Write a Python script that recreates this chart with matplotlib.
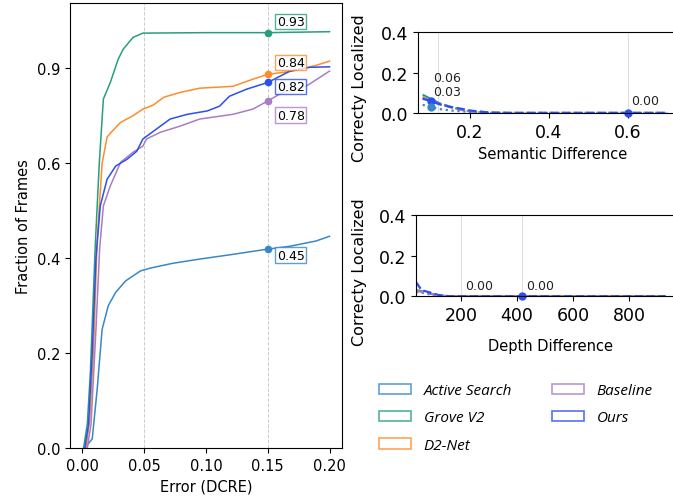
import matplotlib.pyplot as plt
from matplotlib.patches import Patch

# --- left panel: cumulative error curves (Error (DCRE) vs fraction of frames)
METHODS = ["Active Search", "Grove V2", "D2-Net", "Baseline", "Ours"]
COLORS = ["#3a87c5", "#279e7f", "#ff8c2a", "#a87dc8", "#2b4ff0"]

active_x = [0.002, 0.008, 0.012, 0.016, 0.021, 0.027, 0.035, 0.047, 0.055, 0.073,
            0.095, 0.122, 0.150, 0.168, 0.189, 0.200]
active_y = [0.0, 0.019, 0.124, 0.25, 0.30, 0.328, 0.352, 0.373, 0.379, 0.389,
            0.398, 0.408, 0.419, 0.425, 0.436, 0.446]
grove_x = [0.001, 0.004, 0.0065, 0.0105, 0.0137, 0.017, 0.0226, 0.029, 0.033, 0.041,
           0.049, 0.100, 0.150, 0.200]
grove_y = [0.0, 0.05, 0.16, 0.43, 0.60, 0.735, 0.77, 0.819, 0.84, 0.865,
           0.874, 0.875, 0.875, 0.877]
d2_x = [0.003, 0.006, 0.009, 0.012, 0.016, 0.020, 0.024, 0.031, 0.041, 0.049, 0.057,
        0.066, 0.079, 0.095, 0.122, 0.138, 0.150, 0.170, 0.189, 0.200]
d2_y = [0.0, 0.06, 0.20, 0.44, 0.60, 0.655, 0.667, 0.686, 0.70, 0.714, 0.722,
        0.739, 0.749, 0.758, 0.762, 0.777, 0.787, 0.794, 0.806, 0.815]
base_x = [0.004, 0.007, 0.011, 0.014, 0.017, 0.0226, 0.031, 0.041, 0.049, 0.052, 0.063,
          0.079, 0.095, 0.122, 0.138, 0.150, 0.162, 0.181, 0.200]
base_y = [0.0, 0.05, 0.25, 0.42, 0.51, 0.552, 0.602, 0.623, 0.636, 0.651, 0.665,
          0.678, 0.693, 0.703, 0.714, 0.731, 0.749, 0.762, 0.794]
ours_x = [0.002, 0.005, 0.008, 0.011, 0.0145, 0.020, 0.027, 0.036, 0.044, 0.049, 0.060,
          0.071, 0.085, 0.101, 0.111, 0.119, 0.133, 0.150, 0.168, 0.184, 0.200]
ours_y = [0.0, 0.05, 0.20, 0.40, 0.51, 0.566, 0.594, 0.608, 0.625, 0.651, 0.672,
          0.693, 0.703, 0.71, 0.72, 0.741, 0.756, 0.77, 0.794, 0.802, 0.803]
curves = [(active_x, active_y), (grove_x, grove_y), (d2_x, d2_y),
          (base_x, base_y), (ours_x, ours_y)]

# value at the 0.15 threshold and the label printed next to it
thr = 0.15
thr_y = [0.419, 0.875, 0.787, 0.731, 0.77]
thr_labels = ["0.45", "0.93", "0.84", "0.78", "0.82"]
thr_offsets = [-6, 11, 12, -14, -4]

left_yticks = [0.0, 0.2, 0.4, 0.6, 0.8]
left_yticklabels = ["0.0", "0.2", "0.4", "0.6", "0.9"]

# --- right panels
sem_x = [0.08, 0.10, 0.12, 0.15, 0.18, 0.20, 0.23, 0.25, 0.30, 0.40, 0.50, 0.60, 0.70]
sem_y = {
    "Active Search": [0.04, 0.03, 0.02, 0.012, 0.008, 0.005, 0.002, 0.0, 0.0, 0.0, 0.0, 0.0, 0.0],
    "Grove V2": [0.09, 0.07, 0.05, 0.03, 0.015, 0.008, 0.003, 0.0, 0.0, 0.0, 0.0, 0.0, 0.0],
    "D2-Net": [0.08, 0.065, 0.045, 0.028, 0.014, 0.008, 0.003, 0.0, 0.0, 0.0, 0.0, 0.0, 0.0],
    "Baseline": [0.075, 0.06, 0.045, 0.03, 0.016, 0.01, 0.004, 0.001, 0.0, 0.0, 0.0, 0.0, 0.0],
    "Ours": [0.07, 0.06, 0.045, 0.03, 0.02, 0.012, 0.006, 0.002, 0.0, 0.0, 0.0, 0.0, 0.0],
}
sem_marks = [(0.10, 0.06, "0.06", 23), (0.10, 0.03, "0.03", 15), (0.60, 0.0, "0.00", 12)]
sem_mark_colors = ["#2b4ff0", "#3a87c5", "#2b4ff0"]

dep_x = [40, 60, 80, 100, 120, 140, 160, 200, 300, 420, 500, 600, 700, 800, 930]
dep_y = {
    "Active Search": [0.02, 0.018, 0.012, 0.006, 0.002, 0.0, 0.0, 0.0, 0.0, 0.0, 0.0, 0.0, 0.0, 0.0, 0.0],
    "Grove V2": [0.03, 0.025, 0.018, 0.01, 0.004, 0.001, 0.0, 0.0, 0.0, 0.0, 0.0, 0.0, 0.0, 0.0, 0.0],
    "D2-Net": [0.028, 0.024, 0.02, 0.012, 0.005, 0.001, 0.0, 0.0, 0.0, 0.0, 0.0, 0.0, 0.0, 0.0, 0.0],
    "Baseline": [0.025, 0.022, 0.016, 0.01, 0.004, 0.001, 0.0, 0.0, 0.0, 0.0, 0.0, 0.0, 0.0, 0.0, 0.0],
    "Ours": [0.07, 0.03, 0.022, 0.014, 0.006, 0.002, 0.0, 0.0, 0.0, 0.0, 0.0, 0.0, 0.0, 0.0, 0.0],
}
dep_marks = [(200, 0.0, "0.00", False), (420, 0.0, "0.00", True)]

STYLES = [":", "--", ":", "--", "--"]

plt.rcParams["font.size"] = 10.5
fig = plt.figure(figsize=(6.73, 5.02), dpi=100)

# left
ax = fig.add_axes([0.104, 0.1056, 0.404, 0.886])
for x in [0.05, 0.15]:
    ax.axvline(x, color="#cccccc", linestyle="--", linewidth=0.7, zorder=0)
for (xs, ys), c in zip(curves, COLORS):
    ax.plot(xs, ys, color=c, linewidth=1.1)
for c, v, lab, off in zip(COLORS, thr_y, thr_labels, thr_offsets):
    ax.plot(thr, v, "o", color=c, markersize=4.5)
    ax.annotate(lab, (thr, v), xytext=(9, off), textcoords="offset pixels",
                ha="left", va="center", fontsize=9,
                bbox=dict(boxstyle="square,pad=0.1", facecolor="white",
                          edgecolor=c, alpha=0.8, linewidth=1))
ax.set_xlim(-0.01, 0.21)
ax.set_ylim(0, 0.937)
ax.set_xticks([0.0, 0.05, 0.10, 0.15, 0.20])
ax.set_xticklabels(["0.00", "0.05", "0.10", "0.15", "0.20"])
ax.set_yticks(left_yticks)
ax.set_yticklabels(left_yticklabels)
ax.set_xlabel("Error (DCRE)")
ax.set_ylabel("Fraction of Frames")

# top right
ax1 = fig.add_axes([0.621, 0.773, 0.40, 0.161])
for x in [0.12, 0.6]:
    ax1.axvline(x, color="#dddddd", linewidth=0.7, zorder=0)
for name, c, ls in zip(METHODS, COLORS, STYLES):
    ax1.plot(sem_x, sem_y[name], color=c, linestyle=ls, linewidth=1.6)
for (x, y, lab, off), c in zip(sem_marks, sem_mark_colors):
    ax1.plot(x, y, "o", color=c, markersize=5, clip_on=False)
    ax1.annotate(lab, (x, y), xytext=(3, off), textcoords="offset pixels",
                 ha="left", va="center", fontsize=9, color="#222222")
ax1.set_xlim(0.068, 0.75)
ax1.set_ylim(0, 0.4)
ax1.set_yticks([0.0, 0.2, 0.4])
ax1.set_xticks([0.2, 0.4, 0.6])
ax1.tick_params(labelsize=12.5)
ax1.set_xlabel("Semantic Difference")
ax1.set_ylabel("Correcty Localized", fontsize=11.5)
ax1.yaxis.set_label_coords(-0.19, 0.32)

# bottom right
ax2 = fig.add_axes([0.618, 0.408, 0.40, 0.162])
for x in [200, 420]:
    ax2.axvline(x, color="#dddddd", linewidth=0.7, zorder=0)
for name, c, ls in zip(METHODS, COLORS, STYLES):
    ax2.plot(dep_x, dep_y[name], color=c, linestyle=ls, linewidth=1.6)
for x, y, lab, show in dep_marks:
    if show:
        ax2.plot(x, y, "o", color="#2b4ff0", markersize=5, clip_on=False)
    ax2.annotate(lab, (x, y), xytext=(4, 11), textcoords="offset pixels",
                 ha="left", va="center", fontsize=9, color="#222222")
ax2.set_xlim(40, 1000)
ax2.set_ylim(0, 0.4)
ax2.set_yticks([0.0, 0.2, 0.4])
ax2.set_xticks([200, 400, 600, 800])
ax2.tick_params(labelsize=12.5)
ax2.set_xlabel("Depth Difference", labelpad=10)
ax2.set_ylabel("Correcty Localized", fontsize=11.5)
ax2.yaxis.set_label_coords(-0.182, 0.31)

# legend
handles = [Patch(facecolor="white", edgecolor=c, alpha=0.8, linewidth=1.2) for c in COLORS]
fig.legend(handles, METHODS, loc="upper left", bbox_to_anchor=(0.542, 0.262),
           ncol=2, frameon=False, handlelength=2.1, handletextpad=0.85,
           columnspacing=2.6, labelspacing=0.8,
           prop={"family": "Open Sans", "style": "italic", "size": 11})

fig.savefig("out.png", dpi=100)
